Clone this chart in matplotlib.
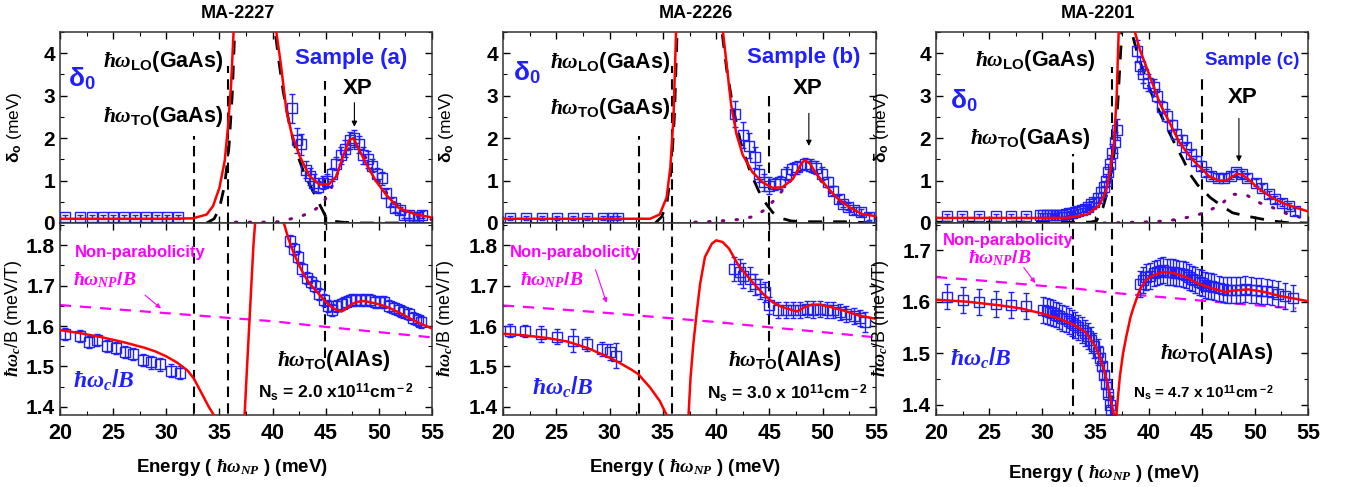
import numpy as np
import matplotlib
matplotlib.use('Agg')
import matplotlib.pyplot as plt
from matplotlib.ticker import MultipleLocator

plt.rcParams['font.family'] = ['Liberation Sans', 'DejaVu Sans']
plt.rcParams['font.weight'] = 'bold'
plt.rcParams['mathtext.fontset'] = 'custom'
plt.rcParams['mathtext.rm'] = 'Liberation Sans:bold'
plt.rcParams['mathtext.bf'] = 'Liberation Sans:bold'
plt.rcParams['mathtext.sf'] = 'Liberation Sans:bold'
plt.rcParams['mathtext.it'] = 'Liberation Serif:italic:bold'

# ---------------- sample (a)  MA-2227 ----------------
ea_up = [20.5, 21.9, 23.0, 24.0, 25.0, 26.0, 27.1, 28.1, 29.1, 30.1, 31.1,
         41.8, 42.3, 42.7, 43.1, 43.5, 43.9, 44.3, 44.7, 45.1, 45.6,
         46.0, 46.4, 46.8, 47.3, 47.7, 48.1, 48.5, 49.0, 49.4, 49.8,
         50.3, 50.7, 51.1, 51.5, 52.0, 52.4, 52.8, 53.3, 53.7, 54.1]
da_up = [0.15] * 11 + [
         2.7, 1.95, 1.85, 1.25, 1.1, 0.95, 0.85, 0.95, 1.0, 1.15,
         1.4, 1.6, 1.75, 1.95, 2.0, 1.85, 1.6, 1.5, 1.35, 1.15,
         1.05, 0.7, 0.5, 0.35, 0.3, 0.2, 0.2, 0.15, 0.15, 0.2]
sa_up = [0.05] * 11 + [
         0.35, 0.3, 0.25, 0.2, 0.2, 0.2, 0.15, 0.15, 0.15, 0.15,
         0.15, 0.2, 0.2, 0.2, 0.2, 0.2, 0.2, 0.2, 0.15, 0.15,
         0.15, 0.1, 0.1, 0.1, 0.08, 0.08, 0.08, 0.08, 0.08, 0.08]
ea_fit = [20, 30, 32.5, 33.8, 34.4, 35.0, 35.5, 35.8, 36.1, 36.35,
          40.3, 40.8, 41.3, 41.8, 42.6, 43.5, 44.4, 45.3, 46.0, 46.6,
          47.2, 47.6, 48.0, 48.8, 49.7, 50.7, 51.9, 53.5, 55.0]
fa_fit = [0.1, 0.1, 0.11, 0.2, 0.4, 0.83, 1.47, 2.25, 3.27, 4.6,
          4.6, 3.7, 2.65, 2.1, 1.55, 1.1, 0.91, 0.91, 1.1, 1.55,
          1.95, 2.0, 1.8, 1.4, 1.0, 0.66, 0.35, 0.2, 0.13]
ea_lo_ph = [33.8, 34.5, 35.0, 35.5, 35.9, 36.2, 36.45, 40.2, 40.6, 41.0,
            41.6, 42.2, 43.0, 43.8, 44.4, 45.0, 45.5, 46.5, 48.0, 55.0]
fa_lo_ph = [0.0, 0.1, 0.35, 0.9, 1.8, 3.0, 4.6, 4.6, 3.8, 3.1,
            2.3, 1.7, 1.15, 0.75, 0.45, 0.15, 0.05, 0.02, 0.0, 0.0]
ea_xp = [36.5, 39.3, 40.7, 42.8, 43.8, 44.7, 45.4, 46.0, 46.8, 47.6,
         48.4, 49.2, 50.0, 51.0, 52.0, 53.0, 54.0, 55.0]
fa_xp = [0.02, 0.02, 0.03, 0.17, 0.28, 0.45, 0.75, 1.1, 1.6, 1.9,
         1.7, 1.35, 1.0, 0.6, 0.35, 0.2, 0.12, 0.08]

ea_lo = [20.5, 21.9, 22.7, 23.5, 24.4, 25.3, 26.1, 26.9, 27.8, 28.6, 29.4, 30.4, 31.3,
         41.6, 42.0, 42.4, 42.8, 43.2, 43.6, 44.0, 44.4, 44.8, 45.2,
         45.6, 46.0, 46.5, 46.9, 47.4, 47.8, 48.3, 48.7, 49.2, 49.6,
         50.1, 50.5, 51.0, 51.4, 51.9, 52.3, 52.8, 53.2, 53.7, 54.0]
wa_lo = [1.58, 1.575, 1.56, 1.565, 1.55, 1.545, 1.535, 1.53, 1.515, 1.51, 1.505, 1.49, 1.485,
         1.81, 1.79, 1.77, 1.74, 1.72, 1.71, 1.70, 1.68, 1.665, 1.65,
         1.64, 1.65, 1.655, 1.66, 1.665, 1.665, 1.665, 1.665, 1.665, 1.66,
         1.66, 1.66, 1.65, 1.645, 1.64, 1.635, 1.63, 1.62, 1.615, 1.61]
ea_wfit1 = [20, 22, 24, 26, 28, 29, 30, 31, 32, 32.6, 33.5, 34.0, 34.4, 34.7]
wa_wfit1 = [1.59, 1.582, 1.572, 1.56, 1.546, 1.537, 1.525, 1.51, 1.49, 1.47, 1.425, 1.40, 1.383, 1.37]
ea_wfit2 = [37.35, 37.6, 37.9, 38.2, 38.4, 40.9, 41.5, 42.0, 42.5, 43.0, 43.5, 44.0, 44.5, 45.0,
            45.5, 46.0, 46.5, 47.0, 47.5, 48.0, 48.5, 49.0, 49.5, 50, 51, 52, 53, 54, 55]
wa_wfit2 = [1.37, 1.5, 1.65, 1.8, 1.87, 1.87, 1.815, 1.78, 1.75, 1.725, 1.705, 1.69, 1.675, 1.66,
            1.648, 1.64, 1.636, 1.645, 1.655, 1.66, 1.662, 1.66, 1.657, 1.654, 1.645, 1.632, 1.618, 1.605, 1.594]
ea_np = [20, 25, 30, 35, 40, 45, 50, 55]
wa_np = [1.652, 1.642, 1.632, 1.622, 1.612, 1.598, 1.585, 1.572]
pa_ph = [32.6, 35.85, 44.95]
pa_top = [2.05, 3.7, 3.35]

# ---------------- sample (b)  MA-2226 ----------------
eb_up = [20.7, 22.2, 23.7, 25.1, 26.6, 27.9, 29.4, 30.2, 30.8,
         41.8, 42.5, 43.1, 43.6, 44.0, 44.5, 45.0, 45.5, 46.0, 46.6, 47.1, 47.6,
         48.3, 48.9, 49.4, 49.9, 50.5, 51.0, 51.5, 51.9, 52.4, 52.9, 53.6, 54.3]
db_up = [0.12] * 9 + [
         2.57, 2.07, 1.82, 1.55, 1.16, 0.96, 0.88, 0.92, 0.96, 1.16, 1.27, 1.31,
         1.39, 1.35, 1.30, 1.16, 0.96, 0.76, 0.57, 0.45, 0.38, 0.3, 0.25, 0.15]
sb_up = [0.05] * 9 + [
         0.3, 0.3, 0.3, 0.25, 0.2, 0.2, 0.2, 0.15, 0.15, 0.15, 0.15, 0.15,
         0.15, 0.15, 0.15, 0.15, 0.12, 0.1, 0.1, 0.08, 0.08, 0.08, 0.08, 0.08]
eb_fit = [20, 33.8, 34.7, 35.35, 35.7, 36.0, 36.25,
          40.6, 41.0, 41.4, 41.9, 42.5, 43.4, 44.4, 45.3, 46.2, 47.2, 48.0, 48.3,
          48.8, 49.4, 50.3, 51.3, 52.5, 53.7, 55.0]
fb_fit = [0.1, 0.1, 0.2, 0.6, 1.3, 2.5, 4.6,
          4.6, 3.7, 2.8, 2.1, 1.6, 1.2, 0.95, 0.83, 0.84, 1.04, 1.4, 1.48,
          1.4, 1.16, 0.88, 0.6, 0.37, 0.21, 0.16]
eb_lo_ph = [34.3, 34.9, 35.4, 35.8, 36.1, 36.35, 40.5, 41.0, 41.6, 42.3,
            43.2, 44.0, 44.7, 45.3, 46.0, 47.0, 48.0, 50.0, 52.0, 55.0]
fb_lo_ph = [0.0, 0.15, 0.5, 1.3, 2.6, 4.6, 4.6, 3.6, 2.7, 1.9,
            1.2, 0.75, 0.45, 0.25, 0.12, 0.05, 0.03, 0.03, 0.03, 0.0]
eb_xp = [38, 40, 42, 43.5, 44.5, 45.5, 46.5, 47.5, 48.3, 49.0, 50, 51, 52, 53, 54, 55]
fb_xp = [0.02, 0.04, 0.08, 0.15, 0.3, 0.55, 0.85, 1.15, 1.3, 1.2, 0.95, 0.6, 0.38, 0.22, 0.14, 0.1]

eb_lo = [20.7, 22.1, 23.6, 25.1, 26.6, 27.9, 29.3, 30.0, 30.6,
         41.7, 42.2, 42.55, 43.2, 43.6, 44.1, 44.6, 45.0, 45.8, 46.6, 47.2,
         47.9, 48.5, 49.1, 49.7, 50.4, 51.0, 51.6, 52.2, 52.9, 53.5, 54.0]
wb_lo = [1.589, 1.587, 1.581, 1.574, 1.564, 1.556, 1.543, 1.535, 1.527,
         1.742, 1.735, 1.725, 1.717, 1.703, 1.692, 1.684, 1.651, 1.639, 1.64, 1.64,
         1.64, 1.643, 1.641, 1.643, 1.639, 1.639, 1.634, 1.63, 1.624, 1.62, 1.61]
sb_lo = [0.015, 0.015, 0.02, 0.018, 0.028, 0.018, 0.018, 0.02, 0.03,
         0.03, 0.03, 0.03, 0.03, 0.025, 0.025, 0.025, 0.02, 0.02, 0.02, 0.02,
         0.02, 0.02, 0.02, 0.02, 0.02, 0.02, 0.02, 0.02, 0.02, 0.02, 0.025]
eb_wfit1 = [20, 22, 24, 26, 28, 30, 31, 32, 32.7, 33.8, 34.7, 35.45]
wb_wfit1 = [1.581, 1.577, 1.571, 1.562, 1.545, 1.522, 1.508, 1.493, 1.481, 1.448, 1.415, 1.375]
eb_wfit2 = [37.4, 37.6, 37.86, 38.2, 38.5, 38.95, 39.6, 40.0, 40.6, 41.2, 42.1, 43.4, 44.4, 45.3,
            46.2, 47.2, 47.6, 48.3, 49.0, 49.7, 50.6, 51.9, 53.4, 55.0]
wb_wfit2 = [1.375, 1.473, 1.556, 1.639, 1.705, 1.771, 1.804, 1.812, 1.808, 1.792, 1.75, 1.709, 1.68, 1.659,
            1.647, 1.639, 1.636, 1.647, 1.653, 1.653, 1.648, 1.639, 1.626, 1.618]
eb_np = [20, 25, 30, 35, 40, 45, 50, 55]
wb_np = [1.651, 1.642, 1.632, 1.621, 1.61, 1.597, 1.585, 1.572]
pb_ph = [32.8, 35.9, 45.0]
pb_top = [2.05, 3.7, 3.0]

# ---------------- sample (c)  MA-2201 ----------------
ec_up = [21.0, 22.4, 24.0, 25.6, 27.1, 28.5,
         29.8, 30.1, 30.4, 30.7, 31.0, 31.3, 31.6, 31.9, 32.2, 32.5, 32.8, 33.1, 33.4, 33.7,
         34.0, 34.3, 34.6, 34.9, 35.2, 35.5, 35.8, 36.0, 36.2, 36.4, 36.6, 36.8, 37.0,
         38.9, 39.2, 39.5, 39.9, 40.5, 40.8, 41.3, 41.7, 42.2, 42.6, 43.1, 43.5, 44.0,
         44.5, 44.9, 45.4, 45.9, 46.5, 47.1, 47.8, 48.2, 48.8, 49.3, 50.1, 50.7, 51.3,
         51.9, 52.6, 53.2, 53.8]
dc_up = [0.17] * 6 + [
         0.18, 0.18, 0.18, 0.18, 0.19, 0.19, 0.2, 0.2, 0.22, 0.23, 0.24, 0.26, 0.28, 0.31,
         0.34, 0.38, 0.44, 0.5, 0.6, 0.72, 0.85, 1.0, 1.2, 1.4, 1.65, 1.9, 2.2,
         4.05, 3.7, 3.5, 3.3, 3.2, 3.0, 2.73, 2.53, 2.3, 2.1, 1.95, 1.78, 1.62,
         1.47, 1.35, 1.19, 1.11, 1.07, 1.07, 1.11, 1.19, 1.15, 1.07, 0.95, 0.83, 0.68,
         0.56, 0.48, 0.4, 0.28]
sc_up = [0.05] * 6 + [0.05] * 14 + [
         0.06, 0.07, 0.08, 0.1, 0.1, 0.12, 0.15, 0.15, 0.18, 0.2, 0.22, 0.25, 0.25,
         0.25, 0.2, 0.2, 0.2, 0.2, 0.15, 0.15, 0.15, 0.12, 0.12, 0.12, 0.1, 0.1,
         0.1, 0.1, 0.08, 0.08, 0.08, 0.08, 0.08, 0.08, 0.08, 0.08, 0.08, 0.08, 0.08,
         0.08, 0.08, 0.08, 0.08]
ec_fit = [20, 32.3, 34.2, 35.3, 36.0, 36.4, 36.75, 37.0, 37.2,
          38.6, 39.2, 39.8, 40.5, 41.1, 41.7, 42.3, 42.9, 43.5, 44.1, 44.9, 45.7,
          46.6, 47.3, 47.8, 48.3, 48.8, 49.4, 50.3, 51.6, 52.8, 54.9]
fc_fit = [0.12, 0.12, 0.2, 0.4, 0.75, 1.23, 1.9, 3.0, 4.6,
          4.6, 4.07, 3.67, 3.2, 2.8, 2.5, 2.2, 1.9, 1.7, 1.5, 1.3, 1.1,
          1.0, 1.0, 1.08, 1.16, 1.14, 1.03, 0.82, 0.6, 0.45, 0.28]
ec_lo_ph = [20, 34.5, 35.1, 35.7, 36.2, 36.7, 37.1, 37.5, 38.3, 39.0, 39.8, 40.6, 41.7,
            42.5, 43.3, 43.9, 44.6, 45.8, 46.9, 47.9, 49.1, 50.5, 51.6, 53.0, 55.0]
fc_lo_ph = [0.02, 0.02, 0.05, 0.36, 0.8, 1.5, 2.8, 4.6, 4.6, 3.95, 3.36, 2.85, 2.26,
            1.85, 1.47, 1.15, 0.9, 0.6, 0.4, 0.24, 0.17, 0.1, 0.05, 0.01, 0.0]
ec_xp = [34.5, 36, 37.5, 39, 40.5, 42, 43, 44.4, 45.6, 46.9, 47.8, 49.2, 50.5, 51.7, 53.1, 54.5]
fc_xp = [0.0, 0.0, 0.01, 0.02, 0.03, 0.06, 0.1, 0.17, 0.28, 0.45, 0.68, 0.66, 0.47, 0.36, 0.21, 0.12]

ec_lo = [21.0, 22.5, 24.0, 25.6, 27.1, 28.5,
         30.1, 30.4, 30.7, 31.0, 31.3, 31.6, 31.9, 32.2, 32.5, 32.8, 33.1, 33.4, 33.7,
         34.0, 34.3, 34.6, 34.9, 35.2, 35.4, 35.6, 35.8, 36.0, 36.2, 36.4, 36.5,
         39.2, 39.5, 39.8, 40.1, 40.5, 40.8, 41.1, 41.4, 41.7, 42.0,
         42.3, 42.6, 42.9, 43.2, 43.5, 43.8, 44.1, 44.4, 44.7, 45.0,
         45.3, 45.6, 45.9, 46.2, 46.6, 47.0, 47.4, 47.8, 48.2, 48.6,
         49.1, 49.6, 50.1, 50.6, 51.1, 51.6, 52.2, 52.8, 53.6]
wc_lo = [1.61, 1.603, 1.6, 1.596, 1.593, 1.592,
         1.584, 1.582, 1.58, 1.578, 1.575, 1.572, 1.569, 1.566, 1.563, 1.559, 1.555, 1.55, 1.545,
         1.54, 1.533, 1.525, 1.515, 1.503, 1.49, 1.475, 1.458, 1.44, 1.42, 1.4, 1.39,
         1.635, 1.642, 1.648, 1.65, 1.655, 1.657, 1.66, 1.661, 1.658, 1.658,
         1.658, 1.656, 1.655, 1.654, 1.652, 1.648, 1.645, 1.642, 1.639, 1.636,
         1.632, 1.631, 1.63, 1.628, 1.626, 1.624, 1.623, 1.623, 1.623, 1.623,
         1.625, 1.623, 1.622, 1.621, 1.62, 1.618, 1.615, 1.611, 1.607]
ec_wfit1 = [20, 23, 26, 28, 30, 31.5, 33, 34, 34.5, 35, 35.4, 35.8, 36.1, 36.4, 36.6, 36.8]
wc_wfit1 = [1.604, 1.6, 1.593, 1.587, 1.577, 1.568, 1.555, 1.542, 1.529, 1.513, 1.493, 1.468,
            1.445, 1.416, 1.395, 1.375]
ec_wfit2 = [36.95, 37.1, 37.3, 37.6, 37.9, 38.3, 38.6, 39.2, 39.8, 40.5, 41.4, 42.3, 43.5, 44.7,
            46.0, 47.2, 48.1, 49.4, 50.9, 52.4, 53.5, 55.0]
wc_wfit2 = [1.375, 1.41, 1.455, 1.5, 1.532, 1.57, 1.59, 1.625, 1.643, 1.652, 1.658, 1.656, 1.648,
            1.635, 1.626, 1.619, 1.622, 1.624, 1.619, 1.611, 1.607, 1.601]
ec_np = [20, 25, 30, 33, 36.8, 41.8, 47.8, 53.9]
wc_np = [1.648, 1.64, 1.631, 1.626, 1.617, 1.608, 1.597, 1.587]
pc_ph = [32.9, 36.6, 45.0]
pc_top = [1.63, 3.67, 3.44]

titles = ['MA-2227', 'MA-2226', 'MA-2201']
samples = ['Sample (a)', 'Sample (b)', 'Sample (c)']
densities = [r'N$_{\rm s}$ = 2.0 x10$^{\rm 11}$cm$^{\rm -2}$',
             r'N$_{\rm s}$ = 3.0 x 10$^{\rm 11}$cm$^{\rm -2}$',
             r'N$_{\rm s}$ = 4.7 x 10$^{\rm 11}$cm$^{\rm -2}$']

BLUE = '#1f1fff'
MAG = '#ff00ff'
PURPLE = '#800080'

W, H = 1351, 487
fig = plt.figure(figsize=(W / 100, H / 100), dpi=100)


def box(l, r, t, b):
    return fig.add_axes([l / W, 1 - b / H, (r - l) / W, (b - t) / H])


def style(ax, major, minor, fs):
    ax.set_xlim(20, 55)
    ax.xaxis.set_major_locator(MultipleLocator(5))
    ax.xaxis.set_minor_locator(MultipleLocator(2.5))
    ax.yaxis.set_major_locator(MultipleLocator(major))
    ax.yaxis.set_minor_locator(MultipleLocator(minor))
    ax.tick_params(which='both', direction='in', top=True, right=True, labelsize=fs)
    ax.tick_params(which='major', length=5, width=1)
    ax.tick_params(which='minor', length=3, width=0.8)
    for s in ax.spines.values():
        s.set_linewidth(1.1)
        s.set_color('#333333')


def draw(ax_u, ax_l, e_up, d_up, s_up, e_fit, f_fit, e_ph, f_ph, e_xp, f_xp,
         e_lo, w_lo, s_lo, e_w1, w_w1, e_w2, w_w2, e_np, w_np, ph, tops):
    # upper: broadening
    ax_u.plot(e_xp, f_xp, color=PURPLE, lw=2.2, ls=(0, (0.5, 4)), dash_capstyle='round', zorder=2)
    ax_u.plot(e_ph, f_ph, color='k', lw=2.0, ls=(0, (5, 4)), zorder=2)
    ax_u.errorbar(e_up, d_up, yerr=s_up, fmt='s', ms=6.5, mfc='none', mec=BLUE, mew=1.0,
                  ecolor=BLUE, elinewidth=1.0, capsize=2.5, capthick=1.0, zorder=3)
    ax_u.plot(e_fit, f_fit, color='red', lw=1.8, zorder=4)
    ax_u.vlines(ph, 0, tops, colors='k', lw=1.5, linestyles=(0, (5, 3)), zorder=1)
    ax_u.set_ylim(0, 4.5)
    # lower: cyclotron mass
    ax_l.plot(e_np, w_np, color=MAG, lw=1.6, ls=(0, (5, 4)), zorder=2)
    ax_l.errorbar(e_lo, w_lo, yerr=s_lo, fmt='s', ms=6.5, mfc='none', mec=BLUE, mew=1.0,
                  ecolor=BLUE, elinewidth=1.0, capsize=2.5, capthick=1.0, zorder=3)
    ax_l.plot(e_w1, w_w1, color='red', lw=1.8, zorder=4)
    ax_l.plot(e_w2, w_w2, color='red', lw=1.8, zorder=4)
    ax_l.vlines(ph[:2], 1.3, 1.9, colors='k', lw=1.5, linestyles=(0, (5, 3)), zorder=1)
    ax_l.vlines(ph[2], 1.52, 1.9, colors='k', lw=1.5, linestyles=(0, (5, 3)), zorder=1)


panels = [
    (60, 432, 1.855, (ea_up, da_up, sa_up, ea_fit, fa_fit, ea_lo_ph, fa_lo_ph, ea_xp, fa_xp,
                      ea_lo, wa_lo, 0.015, ea_wfit1, wa_wfit1, ea_wfit2, wa_wfit2, ea_np, wa_np, pa_ph, pa_top)),
    (503, 876, 1.855, (eb_up, db_up, sb_up, eb_fit, fb_fit, eb_lo_ph, fb_lo_ph, eb_xp, fb_xp,
                       eb_lo, wb_lo, sb_lo, eb_wfit1, wb_wfit1, eb_wfit2, wb_wfit2, eb_np, wb_np, pb_ph, pb_top)),
    (936, 1308, 1.753, (ec_up, dc_up, sc_up, ec_fit, fc_fit, ec_lo_ph, fc_lo_ph, ec_xp, fc_xp,
                        ec_lo, wc_lo, 0.025, ec_wfit1, wc_wfit1, ec_wfit2, wc_wfit2, ec_np, wc_np, pc_ph, pc_top)),
]

lab_x = [-0.097, -0.125, -0.12]
title_x = [238, 696, 1098]
xlab = [(232, 467), (685, 467), (1104, 473)]

uppers, lowers = [], []
for i, (l, r, ytop, arrs) in enumerate(panels):
    au = box(l, r, 32, 223)
    al = box(l, r, 223, 415)
    draw(au, al, *arrs)
    style(au, 1, 0.5, 15)
    style(al, 0.1, 0.05, 15)
    au.tick_params(labelbottom=False)
    al.tick_params(axis='x', labelsize=15.5, pad=6)
    al.set_ylim(1.38, ytop)
    au.set_ylabel(r'$\mathrm{δ}_{\mathrm{o}}$ (meV)', fontsize=12.5)
    al.set_ylabel(r'$ħω_c$/B (meV/T)', fontsize=13)
    au.yaxis.set_label_coords(lab_x[i], 0.5)
    al.yaxis.set_label_coords(lab_x[i], 0.5)
    fig.text(title_x[i] / W, 1 - 13 / H, titles[i], ha='center', va='center', fontsize=13)
    fig.text(xlab[i][0] / W, 1 - xlab[i][1] / H, r'Energy ( $ħω_{NP}$ ) (meV)',
             ha='center', va='center', fontsize=13.5)
    uppers.append(au)
    lowers.append(al)

# annotations, sample (a)
au, al = uppers[0], lowers[0]
au.text(20.75, 3.4, r'$\mathrm{δ}_\mathrm{0}$', color=BLUE, fontsize=19, va='center')
au.text(24.0, 3.8, r'$ħω_{\rm LO}$(GaAs)', fontsize=15.5, va='center')
au.text(24.0, 2.5, r'$ħω_{\rm TO}$(GaAs)', fontsize=15.5, va='center')
au.text(42.1, 3.88, samples[0], color=BLUE, fontsize=16, va='center')
au.text(46.6, 3.17, 'XP', fontsize=16, va='center')
au.annotate('', xy=(47.7, 2.2), xytext=(47.7, 2.9),
            arrowprops=dict(arrowstyle='-|>', color='k', lw=0.8, mutation_scale=8))
al.text(21.4, 1.783, 'Non-parabolicity', color=MAG, fontsize=12, va='center')
al.text(21.2, 1.713, r'$ħω_{NP}/B$', color=MAG, fontsize=14, va='center')
al.annotate('', xy=(29.7, 1.639), xytext=(27.8, 1.681),
            arrowprops=dict(arrowstyle='-|>', color=MAG, lw=0.8, mutation_scale=7))
al.text(21.2, 1.466, r'$ħω_c/B$', color=BLUE, fontsize=17, va='center')
al.text(40.4, 1.515, r'$ħω_{\rm TO}$(AlAs)', fontsize=15.5, va='center')
al.text(38.6, 1.436, densities[0], fontsize=12.5, va='center')

# annotations, sample (b)
au, al = uppers[1], lowers[1]
au.text(20.9, 3.55, r'$\mathrm{δ}_\mathrm{0}$', color=BLUE, fontsize=19, va='center')
au.text(24.4, 3.79, r'$ħω_{\rm LO}$(GaAs)', fontsize=15.5, va='center')
au.text(24.4, 2.7, r'$ħω_{\rm TO}$(GaAs)', fontsize=15.5, va='center')
au.text(42.9, 3.9, samples[1], color=BLUE, fontsize=16, va='center')
au.text(47.2, 3.17, 'XP', fontsize=16, va='center')
au.annotate('', xy=(48.7, 1.75), xytext=(48.7, 2.65),
            arrowprops=dict(arrowstyle='-|>', color='k', lw=0.8, mutation_scale=8))
al.text(20.65, 1.783, 'Non-parabolicity', color=MAG, fontsize=12, va='center')
al.text(21.6, 1.713, r'$ħω_{NP}/B$', color=MAG, fontsize=14, va='center')
al.annotate('', xy=(29.8, 1.651), xytext=(28.6, 1.746),
            arrowprops=dict(arrowstyle='-|>', color=MAG, lw=0.8, mutation_scale=7))
al.text(22.7, 1.449, r'$ħω_c/B$', color=BLUE, fontsize=17, va='center')
al.text(41.1, 1.515, r'$ħω_{\rm TO}$(AlAs)', fontsize=15.5, va='center')
al.text(39.1, 1.434, densities[1], fontsize=12.5, va='center')

# annotations, sample (c)
au, al = uppers[2], lowers[2]
au.text(21.3, 2.89, r'$\mathrm{δ}_\mathrm{0}$', color=BLUE, fontsize=19, va='center')
au.text(23.7, 3.83, r'$ħω_{\rm LO}$(GaAs)', fontsize=15.5, va='center')
au.text(23.2, 1.99, r'$ħω_{\rm TO}$(GaAs)', fontsize=15.5, va='center')
au.text(45.3, 3.83, samples[2], color=BLUE, fontsize=13.5, va='center')
au.text(47.5, 2.96, 'XP', fontsize=16, va='center')
au.annotate('', xy=(48.5, 1.38), xytext=(48.5, 2.53),
            arrowprops=dict(arrowstyle='-|>', color='k', lw=0.8, mutation_scale=8))
al.text(20.6, 1.719, 'Non-parabolicity', color=MAG, fontsize=12, va='center')
al.text(23.0, 1.684, r'$ħω_{NP}/B$', color=MAG, fontsize=14, va='center')
al.annotate('', xy=(29.5, 1.632), xytext=(28.1, 1.671),
            arrowprops=dict(arrowstyle='-|>', color=MAG, lw=0.8, mutation_scale=7))
al.text(21.3, 1.49, r'$ħω_c/B$', color=BLUE, fontsize=17, va='center')
al.text(41.1, 1.5, r'$ħω_{\rm TO}$(AlAs)', fontsize=15.5, va='center')
al.text(38.5, 1.423, densities[2], fontsize=11, va='center')

fig.savefig('out.png', dpi=100)
